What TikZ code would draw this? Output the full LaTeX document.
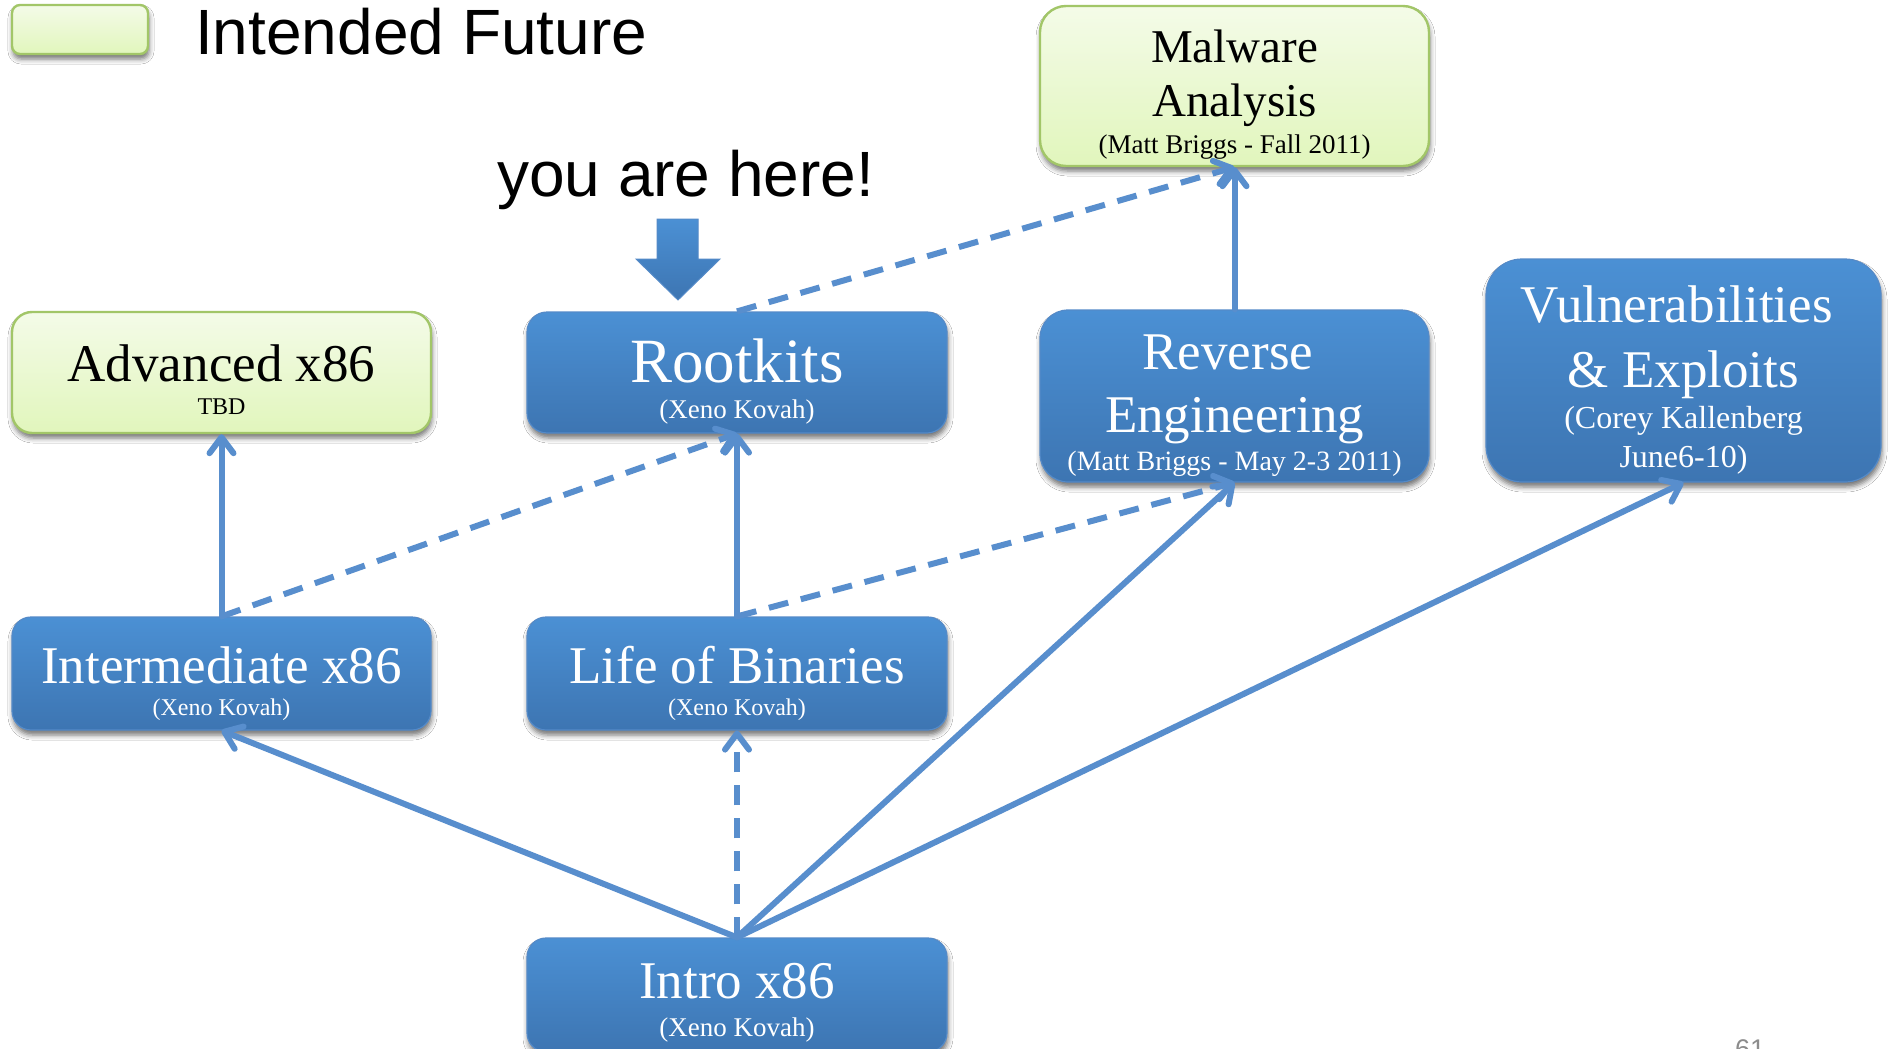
\documentclass[tikz,border=0pt]{standalone}
\usepackage{fontspec}
\setmainfont{Liberation Serif}
\newfontfamily\arialfam{Liberation Sans}
\usetikzlibrary{arrows.meta,shadows.blur}

% one centred line of box text, its baseline raised by #1pt from the box centre
\newcommand\boxline[3]{\makebox[0pt]{\raisebox{#1pt}[0pt][0pt]{\fontsize{#2}{#2}\selectfont #3}}}

\definecolor{blueTop}{RGB}{75,144,212}
\definecolor{blueBot}{RGB}{61,117,178}
\definecolor{blueEdge}{RGB}{84,138,200}
\definecolor{greenTop}{RGB}{244,251,232}
\definecolor{greenBot}{RGB}{225,246,188}
\definecolor{greenEdge}{RGB}{162,198,104}
\definecolor{linkBlue}{RGB}{88,142,205}
\definecolor{pageNum}{RGB}{140,140,140}

\begin{document}
\begin{tikzpicture}[x=1pt, y=-1pt,
  softshadow/.style={blur shadow={shadow xshift=1pt, shadow yshift=-5pt,
      shadow blur radius=5pt, shadow opacity=55}},
  box/.style={rectangle, inner sep=0pt, softshadow},
  bluebox/.style={box, top color=blueTop, bottom color=blueBot,
      draw=blueEdge, line width=1.2pt, text=white},
  greenbox/.style={box, top color=greenTop, bottom color=greenBot,
      draw=greenEdge, line width=2.4pt, text=black},
  link/.style={draw=linkBlue, line width=6pt, line cap=round,
      -{Straight Barb[length=16pt, width=24pt, round, line width=6pt]}},
  dashlink/.style={line cap=butt, dash pattern=on 20pt off 13pt},
  sanslabel/.style={anchor=base west, inner sep=0pt,
      font=\arialfam\fontsize{64}{64}\selectfont}
]
\useasboundingbox (0,0) rectangle (1891,1049);
\fill[white] (0,0) rectangle (1891,1049);

% legend
\node[greenbox, minimum width=136pt, minimum height=49pt, rounded corners=8pt]
  (legend) at (80,29.5) {};
\node[sanslabel] (legendtext) at (195,55) {Intended Future};

% "you are here" marker
\node[sanslabel] (here) at (497,196) {you are here!};
\path[top color=blueTop, bottom color=blueBot, draw=blueEdge, line width=1pt]
  (657,219) -- (698,219) -- (698,259) -- (720,259) -- (678,300)
  -- (636,259) -- (657,259) -- cycle;

% courses
\node[greenbox, minimum width=389pt, minimum height=160pt, rounded corners=26pt]
  (malware) at (1234.5,86)
  {\boxline{24}{47}{Malware}\boxline{-31}{47}{Analysis}%
   \boxline{-67}{27}{(Matt Briggs - Fall 2011)}};

\node[greenbox, minimum width=419pt, minimum height=121pt, rounded corners=20pt]
  (adv) at (221.5,372.5)
  {\boxline{-8.5}{53}{Advanced x86}\boxline{-41.5}{24}{TBD}};

\node[bluebox, minimum width=420pt, minimum height=121pt, rounded corners=20pt]
  (rootkits) at (737,372.5)
  {\boxline{-9.5}{63}{Rootkits}\boxline{-45.5}{27}{(Xeno Kovah)}};

\node[bluebox, minimum width=389pt, minimum height=172pt, rounded corners=28pt]
  (reverse) at (1234.5,396)
  {\boxline{27}{53}{Reverse\ }\boxline{-36}{53}{Engineering}%
   \boxline{-74}{28}{(Matt Briggs - May 2-3 2011)}};

\node[bluebox, minimum width=395pt, minimum height=223pt, rounded corners=36pt]
  (vuln) at (1683.5,370.5)
  {\boxline{48.5}{53}{Vulnerabilities\ }\boxline{-16.5}{53}{\& Exploits}%
   \boxline{-57.5}{32}{(Corey Kallenberg}\boxline{-96.5}{32}{June6-10)}};

\node[bluebox, minimum width=419pt, minimum height=113pt, rounded corners=19pt]
  (inter) at (221.5,673.5)
  {\boxline{-9.5}{53}{Intermediate x86}\boxline{-41.5}{24}{(Xeno Kovah)}};

\node[bluebox, minimum width=420pt, minimum height=113pt, rounded corners=19pt]
  (life) at (737,673.5)
  {\boxline{-9.5}{53}{Life of Binaries}\boxline{-41.5}{24}{(Xeno Kovah)}};

\node[bluebox, minimum width=420pt, minimum height=114pt, rounded corners=19pt]
  (intro) at (737,995)
  {\boxline{-3}{53}{Intro x86}\boxline{-41}{27}{(Xeno Kovah)}};

% page number
\node[anchor=base west, inner sep=0pt, text=pageNum,
  font=\arialfam\fontsize{27}{27}\selectfont] (pagenum) at (1735,1058) {61};

% prerequisites
\draw[link] (intro.north) -- (inter.south);
\draw[link, dashlink] (intro.north) -- (life.south);
\draw[link] (intro.north) -- (reverse.south);
\draw[link] (intro.north) -- (vuln.south);
\draw[link] (inter.north) -- (adv.south);
\draw[link, dashlink] (inter.north) -- (rootkits.south);
\draw[link] (life.north) -- (rootkits.south);
\draw[link, dashlink] (life.north) -- (reverse.south);
\draw[link, dashlink] (rootkits.north) -- (malware.south);
\draw[link] (reverse.north) -- (malware.south);
\end{tikzpicture}
\end{document}
